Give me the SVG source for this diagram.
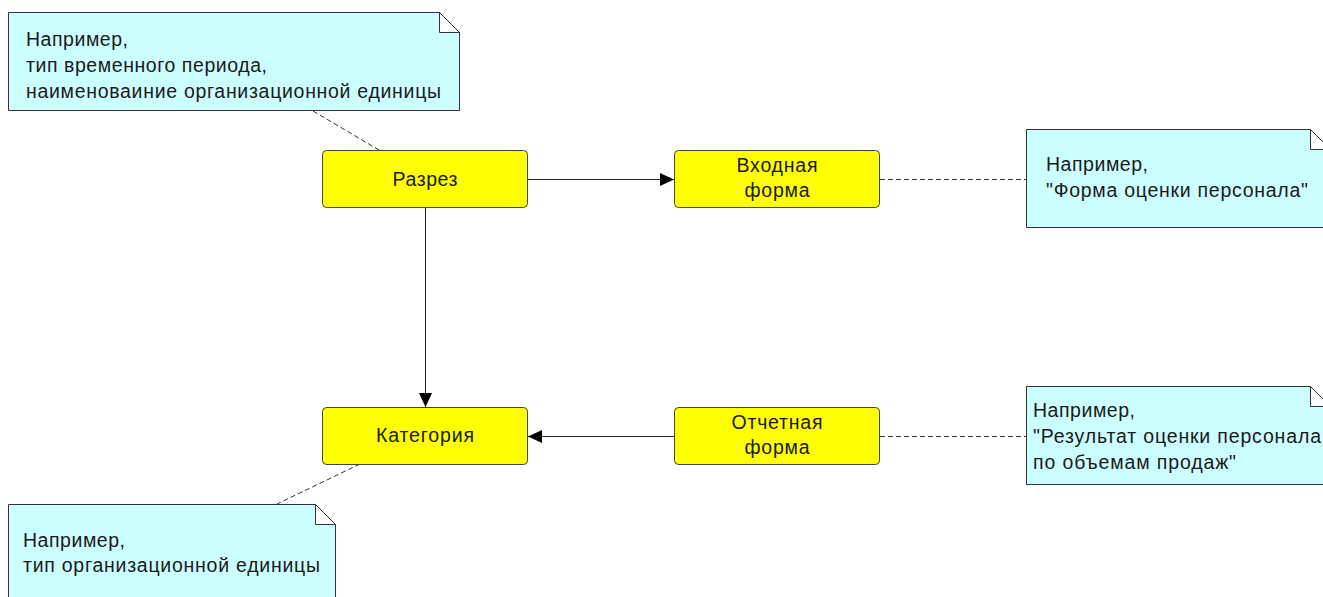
<svg xmlns="http://www.w3.org/2000/svg" width="1323" height="597" viewBox="0 0 1323 597">
<style>
  .note { fill: #CCFFFF; stroke: #333333; stroke-width: 1; }
  .fold { fill: #FFFFFF; stroke: #333333; stroke-width: 1; }
  .node { fill: #FFFF00; stroke: #444444; stroke-width: 1; }
  .t { font-family: "Liberation Sans", Arial, sans-serif; font-size: 19.5px; fill: #1a1a1a; }
  .c { text-anchor: middle; }
  .edge { stroke: #222222; stroke-width: 1; fill: none; }
  .dash { stroke: #333333; stroke-width: 1; stroke-dasharray: 5 3; fill: none; }
</style>
<defs>
  <marker id="arr" markerUnits="userSpaceOnUse" markerWidth="14" markerHeight="14" refX="14" refY="7" orient="auto">
    <path d="M0,0.5 L14,7 L0,13.5 Z" fill="#000000"/>
  </marker>
</defs>
<rect width="1323" height="597" fill="#FFFFFF"/>

<g id="connectors">
  <line class="edge" x1="528" y1="179.5" x2="674" y2="179.5" marker-end="url(#arr)"/>
  <line class="edge" x1="425.5" y1="207" x2="425.5" y2="407" marker-end="url(#arr)"/>
  <line class="edge" x1="674" y1="436.5" x2="528" y2="436.5" marker-end="url(#arr)"/>
  <line class="dash" x1="313" y1="111" x2="379" y2="150"/>
  <line class="dash" x1="880" y1="179.5" x2="1026" y2="179.5"/>
  <line class="dash" x1="880" y1="436.5" x2="1026" y2="436.5"/>
  <line class="dash" x1="360" y1="464" x2="277" y2="504"/>
</g>

<g id="note1">
  <path class="note" d="M8.5,12.5 H439.5 L459.5,32.5 V110.5 H8.5 Z"/>
  <path class="fold" d="M439.5,12.5 V32.5 H459.5 Z"/>
  <text class="t" x="26" y="46" textLength="102" lengthAdjust="spacing">Например,</text>
  <text class="t" x="26" y="72" textLength="241" lengthAdjust="spacing">тип временного периода,</text>
  <text class="t" x="26" y="98" textLength="415" lengthAdjust="spacing">наименоваиние организационной единицы</text>
</g>

<g id="razrez">
  <rect class="node" x="322.5" y="150.5" width="205" height="57" rx="4"/>
  <text class="t c" x="425" y="186" textLength="65" lengthAdjust="spacing">Разрез</text>
</g>

<g id="vhodnaya">
  <rect class="node" x="674.5" y="150.5" width="205" height="57" rx="4"/>
  <text class="t c" x="777" y="172" textLength="81" lengthAdjust="spacing">Входная</text>
  <text class="t c" x="777" y="197" textLength="65" lengthAdjust="spacing">форма</text>
</g>

<g id="kategoriya">
  <rect class="node" x="322.5" y="407.5" width="205" height="57" rx="4"/>
  <text class="t c" x="425" y="442" textLength="98" lengthAdjust="spacing">Категория</text>
</g>

<g id="otchetnaya">
  <rect class="node" x="674.5" y="407.5" width="205" height="57" rx="4"/>
  <text class="t c" x="777" y="429" textLength="91" lengthAdjust="spacing">Отчетная</text>
  <text class="t c" x="777" y="454" textLength="65" lengthAdjust="spacing">форма</text>
</g>

<g id="note2">
  <path class="note" d="M1026.5,129.5 H1310.5 L1330.5,149.5 V227.5 H1026.5 Z"/>
  <path class="fold" d="M1310.5,129.5 V149.5 H1330.5 Z"/>
  <text class="t" x="1046" y="171" textLength="102" lengthAdjust="spacing">Например,</text>
  <text class="t" x="1046" y="197" textLength="262" lengthAdjust="spacing">"Форма оценки персонала"</text>
</g>

<g id="note3">
  <path class="note" d="M1026.5,386.5 H1310.5 L1330.5,406.5 V484.5 H1026.5 Z"/>
  <path class="fold" d="M1310.5,386.5 V406.5 H1330.5 Z"/>
  <text class="t" x="1033" y="417" textLength="102" lengthAdjust="spacing">Например,</text>
  <text class="t" x="1033" y="443" textLength="288" lengthAdjust="spacing">"Результат оценки персонала</text>
  <text class="t" x="1033" y="469" textLength="203" lengthAdjust="spacing">по объемам продаж"</text>
</g>

<g id="note4">
  <path class="note" d="M8.5,504.5 H315.5 L335.5,524.5 V620 H8.5 Z"/>
  <path class="fold" d="M315.5,504.5 V524.5 H335.5 Z"/>
  <text class="t" x="23" y="547" textLength="102" lengthAdjust="spacing">Например,</text>
  <text class="t" x="23" y="572" textLength="297" lengthAdjust="spacing">тип организационной единицы</text>
</g>
</svg>
